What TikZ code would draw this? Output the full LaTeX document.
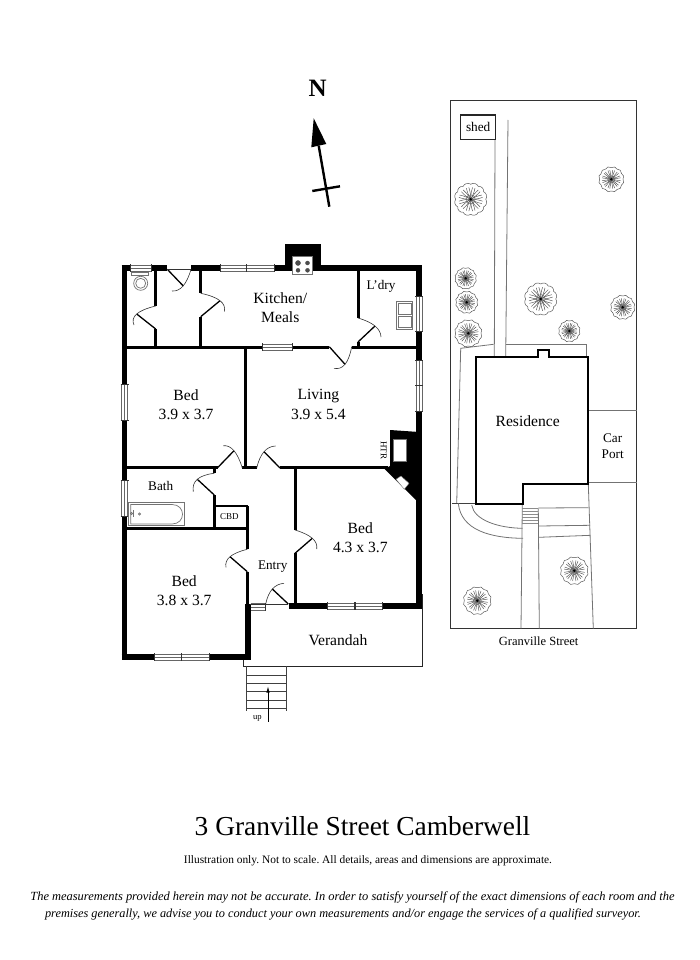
\documentclass[tikz,border=0pt]{standalone}
\usepackage{fontspec}
\setmainfont{Liberation Serif}
\usetikzlibrary{arrows.meta,calc}
\tikzset{
  outerwall/.style={line width=5.6pt},
  innerwall/.style={line width=3pt},
  thinwall/.style={line width=2pt},
  fixture/.style={draw=black!55,line width=.7pt},
  doorleaf/.style={line width=1.3pt},
  doorswing/.style={line width=.6pt,black!80},
  siteline/.style={black!55,line width=.8pt},
  boundary/.style={black!80,line width=1.2pt},
  roomlabel/.style={inner sep=0pt,align=center,font=\fontsize{15.6}{19.3}\selectfont},
  midlabel/.style={inner sep=0pt,align=center,font=\fontsize{13.2}{16.3}\selectfont},
  tinylabel/.style={inner sep=0pt,font=\fontsize{9}{10}\selectfont}
}
% one tree of the site plan
\newcommand{\treeplan}[3]{
\begin{scope}[shift={(#1,#2)},black!70,line width=.45pt]
\draw (0:#3) \foreach \a in {30,60,...,360} { to[bend left=55] (\a:#3) };
\foreach \a in {15,45,...,345} { \draw (0,0) .. controls (\a-12:.45*#3) .. (\a-6:.8*#3); \draw (0,0) .. controls (\a+12:.45*#3) .. (\a+6:.8*#3); }
\draw[black!60] (0,0) circle (.3*#3);
\fill[black] (0,0) circle (1.3);
\end{scope}
}
\begin{document}
\frenchspacing
\begin{tikzpicture}[x=1pt,y=-1pt]
\useasboundingbox (0,0) rectangle (700,960);
% Draw the north arrow
\node (north) at (317.7,88.5) {\fontsize{25}{25}\selectfont\bfseries N};
\coordinate (northtip) at (313.7,118.3);
\coordinate (northbaseleft) at (311.3,147.3);
\coordinate (northbaseright) at (326.3,144);
\coordinate (northneck) at (318.7,145.7);
\coordinate (northtail) at (329.3,206.7);
\coordinate (crossleft) at (312.3,191);
\coordinate (crossright) at (340,186.3);
\fill (northtip) -- (northbaseright) -- (northbaseleft) -- cycle;
\draw[line width=2.4pt] (northneck) -- (northtail);
\draw[line width=2.4pt] (crossleft) -- (crossright);
% Draw the chimneys
\fill (285,244) rectangle (321.3,268);
\fill (390,430) -- (419,432) -- (419,500) -- (416,500) -- (384.5,469) -- (390,466) -- cycle;
% the outer walls
\draw[outerwall] (124.5,265.2) -- (124.5,659.8);
\draw[outerwall] (419,265.2) -- (419,609);
\draw[outerwall] (121.7,268) -- (167.3,268);
\draw[outerwall] (191,268) -- (421.8,268);
\draw[outerwall] (121.7,657) -- (250.8,657);
\draw[outerwall] (248,659.8) -- (248,604);
\draw[outerwall] (289,606) -- (421.8,606);
% the inner walls
\draw[innerwall] (124.5,347) -- (329.3,347);
\draw[innerwall] (351.7,347) -- (416,347);
\draw[innerwall] (155.7,268) -- (155.7,306);
\draw[innerwall] (155.7,329) -- (155.7,347);
\draw[innerwall] (200.7,268) -- (200.7,293.3);
\draw[innerwall] (200.7,316.7) -- (200.7,347);
\draw[innerwall] (358,268) -- (358,318);
\draw[innerwall] (358,342) -- (358,347);
\draw[innerwall] (245.8,347) -- (245.8,468);
\draw[innerwall] (124.5,467.5) -- (218,467.5);
\draw[innerwall] (242,467.5) -- (257,467.5);
\draw[innerwall] (280,467.5) -- (388,467.5);
\draw[innerwall] (295,467.5) -- (295,530);
\draw[innerwall] (295,553.3) -- (295,606);
\draw[innerwall] (214.3,466) -- (214.3,473.3);
\draw[innerwall] (214.3,495) -- (214.3,528.5);
\draw[innerwall] (124.5,528.5) -- (248.8,528.5);
\draw[innerwall] (247.3,506) -- (247.3,549.3);
\draw[innerwall] (247.3,571.7) -- (247.3,604);
\draw[thinwall] (214.3,506) -- (248.3,506);
% the heater and fire place openings
\draw[fill=white,draw=black!55] (392.7,439) rectangle (406,461);
\draw[fill=white,draw=black!55] (396,479.3) -- (401,476) -- (409,483.3) -- (404.3,489.3) -- cycle;
% the doors: hinge, leaf end, swing start, control, swing end
\foreach \hx/\hy/\lx/\ly/\ax/\ay/\cx/\cy/\bx/\by in {
167.3/269.3/183.3/286/191/269.3/184.5/292/172/291,
155.7/329/136.7/314/155.7/306/128.5/312.5/134/325,
200.7/316.7/220/300.7/200.7/293.3/227.5/298.9/224.3/311.7,
358/342/375/326/358/318/380.5/324.5/381/337,
329.3/346.7/345/364.3/351.7/346.7/347.2/371.1/334/368.3,
217.3/468/234/450.7/242.3/468/235.2/444.6/223.3/445.7,
280/468/264/451.7/256.7/468/261.8/446.4/275.7/446,
214.3/495/197.3/479.3/214.3/473.3/190.8/476.1/193.3/491.7,
247.3/571.7/230/556.7/247.3/549.3/223.4/555.1/226/567.3,
295/553.3/312.3/538.3/295/530/318.8/537.1/316.7/549,
288.3/604/272.3/589/265.7/604/269.8/584.4/284/583.3} {
\draw[doorleaf] (\hx,\hy) -- (\lx,\ly);
\draw[doorswing] (\ax,\ay) .. controls ($(\ax,\ay)!.667!(\cx,\cy)$) and ($(\bx,\by)!.667!(\cx,\cy)$) .. (\bx,\by);
}
\draw[doorswing] (167.3,269.3) -- (191,269.3);
\draw[doorswing] (250,604) -- (288.3,604);
% the windows -- across the wall
\foreach \xa/\xb/\yc in {130.7/151.7/268,220/274.3/268,262/292/347,154/209/657,327.7/382.7/606} {
\fill[white] (\xa,\yc-3) rectangle (\xb,\yc+3);
\foreach \d in {-2.8,0,2.8} { \draw[black!60,line width=.6pt] (\xa,\yc+\d) -- (\xb,\yc+\d); }
\draw[black!80,line width=.7pt] (\xa,\yc-4) -- (\xa,\yc+4);
\draw[black!80,line width=.7pt] (\xb,\yc-4) -- (\xb,\yc+4);
}
\foreach \ya/\yb/\xc in {384/420/124.5,480.7/516/124.5,296/331.7/419,360/411.7/419} {
\fill[white] (\xc-3,\ya) rectangle (\xc+3,\yb);
\foreach \d in {-2.8,0,2.8} { \draw[black!60,line width=.6pt] (\xc+\d,\ya) -- (\xc+\d,\yb); }
\draw[black!80,line width=.7pt] (\xc-4,\ya) -- (\xc+4,\ya);
\draw[black!80,line width=.7pt] (\xc-4,\yb) -- (\xc+4,\yb);
}
% the windows -- middle bars
\foreach \xm/\yc in {246.7/268,181.7/657,355/606} { \draw[black!80,line width=1.2pt] (\xm,\yc-4) -- (\xm,\yc+4); }
\draw[black!80,line width=1.2pt] (415,385.7) -- (423,385.7);
% side light at the entry
\foreach \yl in {603.5,607,610.5} { \draw[black!60,line width=.6pt] (250.7,\yl) -- (265,\yl); }
\draw[black!80,line width=.7pt] (265,603) -- (265,611);
% Draw the fixtures
\draw[fixture] (131.7,272.7) rectangle (148.3,275.7);
\draw[fixture,fill=white] (140.7,283.3) circle (7);
\draw[fixture,fill=white] (140.7,283.3) circle (5);
\draw[fixture,fill=white] (292.7,256) rectangle (312.7,274.3);
\foreach \bx/\by/\br in {298/263/2.5,307.5/263/2,298/270.3/2,307.5/270.3/2} { \draw[fill=black!45,black!70] (\bx,\by) circle (\br); }
\draw[fixture] (396.7,301) rectangle (412.7,329.3);
\draw[fixture] (398.5,303) rectangle (411,314);
\draw[fixture] (398.5,316) rectangle (411,327.5);
\draw[fixture] (128.3,502.3) rectangle (184.7,525.7);
\draw[fixture] (130.7,504.5) -- (172,504.5) .. controls (186,504.5) and (186,524) .. (172,524) -- (130.7,524) -- cycle;
\draw[fixture] (131.5,513.5) circle (1.2);
\draw[fixture] (139.5,514) circle (1.2);
\draw[fixture] (133,510) -- (133,517);
% Draw the verandah and steps
\draw[black!85,line width=.9pt] (243.3,659.5) -- (243.3,666) -- (422.3,666) -- (422.3,594);
\draw[black!75,line width=.7pt] (246.7,666) -- (246.7,710.7);
\draw[black!75,line width=.7pt] (286.7,666) -- (286.7,710.7);
\foreach \y in {675,683.3,691.7,700,708.3} { \draw[black!75,line width=.7pt] (246.7,\y) -- (286.7,\y); }
\coordinate (stepsfoot) at (268,721.7);
\coordinate (stepstop) at (268,686.5);
\draw[black,line width=.7pt,-{Latex[length=6pt,width=3.5pt]}] (stepsfoot) -- (stepstop);
% Draw the site plan
\draw[boundary] (450.7,100.7) rectangle (636.7,628.7);
\draw[siteline] (495,139.3) -- (494.3,357);
\draw[siteline] (508,120) -- (505.7,357);
\draw[siteline] (493.5,344.3) -- (460.7,348.3) -- (456.7,503.3);
\draw[siteline] (505.7,344) -- (586.7,344) -- (586.7,357);
\draw[black!75,line width=.8pt] (452.3,503.3) -- (476,503.3);
\draw[siteline] (587.7,410.7) -- (636.7,410.7);
\draw[siteline] (587.7,482.3) -- (636.7,482.3);
\draw[siteline] (588.3,484) -- (593.3,628.7);
\draw[siteline] (522.3,504) -- (521,628.7);
\draw[siteline] (538.3,508.3) -- (539.3,628.7);
\draw[siteline] (538.3,508) -- (588.3,507.7);
\draw[siteline] (539,526) -- (590,525.3);
\draw[siteline] (539,537.3) -- (590.7,535.3);
\foreach \y in {508,511,514,517,520,523} { \draw[black!45,line width=.6pt] (522.3,\y) -- (538.3,\y); }
\draw[siteline] (458.3,503.3) .. controls (461,530) and (490,538) .. (523,538.3);
\draw[siteline] (471.7,505) .. controls (474,520) and (498,528) .. (522.7,528.3);
\node[draw=black!85,line width=1.4pt,minimum width=35pt,minimum height=24.3pt,inner sep=0pt,font=\fontsize{13.3}{14}\selectfont] (shed) at (478.2,127.2) {shed};
\draw[line width=1.9pt,line join=miter] (476,357.3) -- (537.7,357.3) -- (537.7,350) -- (549.3,350) -- (549.3,357.3) -- (587.7,357.3) -- (587.7,484.3) -- (523.3,484.3) -- (523.3,504) -- (476,504) -- cycle;
% the trees
\foreach \tx/\ty/\tr in {470.7/199.3/15,611.3/179.3/11.7,465.7/278.3/10,466.7/302.3/10.3,468.3/333.3/12.7,540.7/299/15,569.3/331/10,622.7/307.3/11.3,574.3/570.7/13,477.3/600.7/13} {
\treeplan{\tx}{\ty}{\tr}
}
% the room labels
\node[roomlabel] (kitchen) at (280.3,308) {Kitchen/\\Meals};
\node[midlabel] (laundry) at (381,286) {L’dry};
\node[roomlabel] (bednw) at (186,405) {Bed\\3.9 x 3.7};
\node[roomlabel] (living) at (318.3,404.5) {Living\\3.9 x 5.4};
\node[tinylabel,rotate=-90] (heater) at (383.7,450) {HTR};
\node[midlabel] (bath) at (160.7,486) {Bath};
\node[tinylabel] (cupboard) at (229.3,517) {CBD};
\node[roomlabel] (bedse) at (360.3,538) {Bed\\4.3 x 3.7};
\node[roomlabel] (bedsw) at (184.2,590.5) {Bed\\3.8 x 3.7};
\node[midlabel] (entry) at (272.7,566.5) {Entry};
\node[roomlabel] (verandah) at (338,640.5) {Verandah};
\node[inner sep=0pt,font=\fontsize{8.6}{9}\selectfont] (upsteps) at (257.3,718) {up};
\node[roomlabel] (residence) at (527.7,420.7) {Residence};
\node[midlabel] (carport) at (612.7,446) {Car\\Port};
\node[inner sep=0pt,font=\fontsize{12.5}{14}\selectfont] (street) at (538.7,641) {Granville Street};
% the text below the plan
\node[inner sep=0pt,font=\fontsize{27.4}{30}\selectfont] (title) at (362.5,826) {3 Granville Street Camberwell};
\node[inner sep=0pt,font=\fontsize{11.4}{13}\selectfont] (notscale) at (368,861) {Illustration only. Not to scale. All details, areas and dimensions are approximate.};
\node[inner sep=0pt,font=\fontsize{12.45}{14}\selectfont\itshape] (measureone) at (352.5,897) {The measurements provided herein may not be accurate. In order to satisfy yourself of the exact dimensions of each room and the};
\node[inner sep=0pt,font=\fontsize{12.3}{14}\selectfont\itshape] (measuretwo) at (343,914) {premises generally, we advise you to conduct your own measurements and/or engage the services of a qualified surveyor.};
\end{tikzpicture}
\end{document}
